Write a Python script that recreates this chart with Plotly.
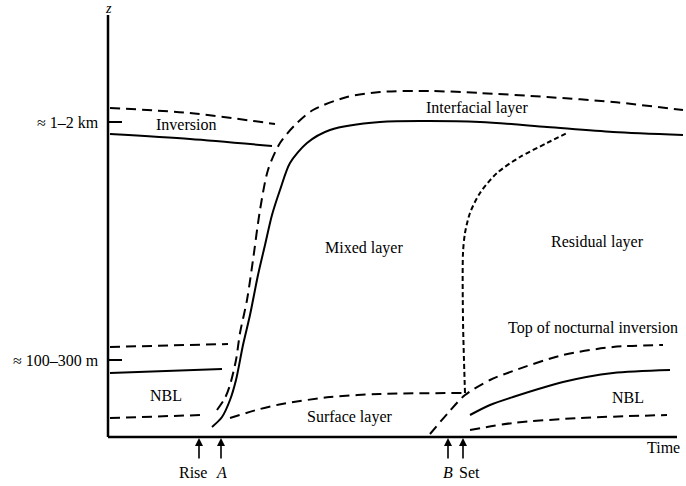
import plotly.graph_objects as go

# ---- data (time t, height z; arbitrary units) ----
inv_top_t = [2, 82, 167]
inv_top_z = [329, 324, 313]
inv_bot_t = [2, 82, 164]
inv_bot_z = [303, 298, 291]

ml_top_t = [104, 114, 122, 128, 135, 142, 150, 157, 164, 172, 182, 199, 222, 272, 372, 439, 505, 575]
ml_top_z = [10, 20, 37, 57, 92, 122, 162, 192, 222, 247, 274, 294, 307, 315, 315, 310, 305, 302]

il_top_t = [109, 117, 122, 128, 132, 139, 145, 152, 160, 172, 189, 205, 239, 272, 322, 372, 439, 505, 575]
il_top_z = [27, 39, 52, 77, 104, 137, 177, 227, 267, 294, 314, 327, 340, 345, 346, 344, 340, 335, 327]

nbl_am_top_t = [2, 120]
nbl_am_top_z = [90, 93]
nbl_am_mid_t = [2, 114]
nbl_am_mid_z = [64, 68]
nbl_am_bot_t = [2, 94]
nbl_am_bot_z = [19, 22]

sl_t = [122, 152, 174, 222, 272, 355]
sl_z = [19, 28, 33, 40, 43, 44]

rl_t = [357, 355, 355, 357, 362, 372, 389, 412, 439, 459]
rl_z = [44, 117, 184, 204, 224, 244, 264, 280, 294, 304]

nbl_pm_top_t = [322, 340, 357, 382, 405, 455, 505, 555]
nbl_pm_top_z = [3, 24, 42, 57, 66, 82, 90, 92]
nbl_pm_mid_t = [362, 382, 405, 455, 505, 562]
nbl_pm_mid_z = [22, 32, 40, 55, 64, 67]
nbl_pm_bot_t = [362, 405, 472, 559]
nbl_pm_bot_z = [7, 14, 19, 22]

event_labels = ["Rise", "A", "B", "Set"]
event_t = [91, 113, 340, 355]

tick_labels = ["\u2248 1\u20132 km", "\u2248 100\u2013300 m"]
tick_z = [315, 77]

z_max = 422
t_max = 569

FONT = "Liberation Serif"
DASH = "10px,6px"
DOT = "5px,3px"
FS = 16

fig = go.Figure()

def add(t, z, dash="solid", width=2, shape="spline"):
    fig.add_trace(go.Scatter(x=t, y=z, mode="lines",
                             line=dict(color="black", width=width, dash=dash, shape=shape, smoothing=0.8),
                             hoverinfo="skip", showlegend=False))

# axes
add([0, 0], [0, z_max], width=2.5, shape="linear")
add([0, t_max], [0, 0], width=2.5, shape="linear")
for z in tick_z:
    add([0, 14], [z, z], width=2, shape="linear")

add(inv_top_t, inv_top_z, DASH)
add(inv_bot_t, inv_bot_z)
add(ml_top_t, ml_top_z)
add(il_top_t, il_top_z, DASH)
add(nbl_am_top_t, nbl_am_top_z, DASH)
add(nbl_am_mid_t, nbl_am_mid_z)
add(nbl_am_bot_t, nbl_am_bot_z, DASH)
add(sl_t, sl_z, DASH)
add(rl_t, rl_z, DOT)
add(nbl_pm_top_t, nbl_pm_top_z, DASH)
add(nbl_pm_mid_t, nbl_pm_mid_z)
add(nbl_pm_bot_t, nbl_pm_bot_z, DASH)

ann = []
def txt(x, y, s, anchor="center", size=FS, italic=False):
    if italic:
        s = "<i>" + s + "</i>"
    ann.append(dict(x=x, y=y, text=s, showarrow=False, xanchor=anchor, yanchor="middle",
                    font=dict(family=FONT, size=size, color="black")))

txt(78, 313, "Inversion")
txt(369, 329, "Interfacial layer")
txt(256, 189, "Mixed layer")
txt(489, 195, "Residual layer")
txt(242, 20, "Surface layer")
txt(58, 42, "NBL")
txt(520, 40, "NBL")
txt(485, 109, "Top of nocturnal inversion")
txt(555, -10, "Time")
txt(0, 429, "z", italic=True, size=14)
for s, z in zip(tick_labels, tick_z):
    txt(-7, z, s, anchor="right")
for s, t in zip(event_labels, event_t):
    txt(t + (-6 if s == "Rise" else (6 if s == "Set" else 0)), -35, s, italic=(s in ("A", "B")))
    ann.append(dict(x=t, y=-1, ax=t, ay=-23, axref="x", ayref="y", xref="x", yref="y",
                    showarrow=True, arrowhead=2, arrowsize=1, arrowwidth=1.6, arrowcolor="black", text=""))

fig.update_layout(
    width=686, height=486, margin=dict(l=0, r=0, t=0, b=0),
    paper_bgcolor="white", plot_bgcolor="white",
    xaxis=dict(range=[-108, 578], visible=False, fixedrange=True),
    yaxis=dict(range=[-49, 437], visible=False, fixedrange=True),
    annotations=ann,
)
fig.write_html("out.html")
